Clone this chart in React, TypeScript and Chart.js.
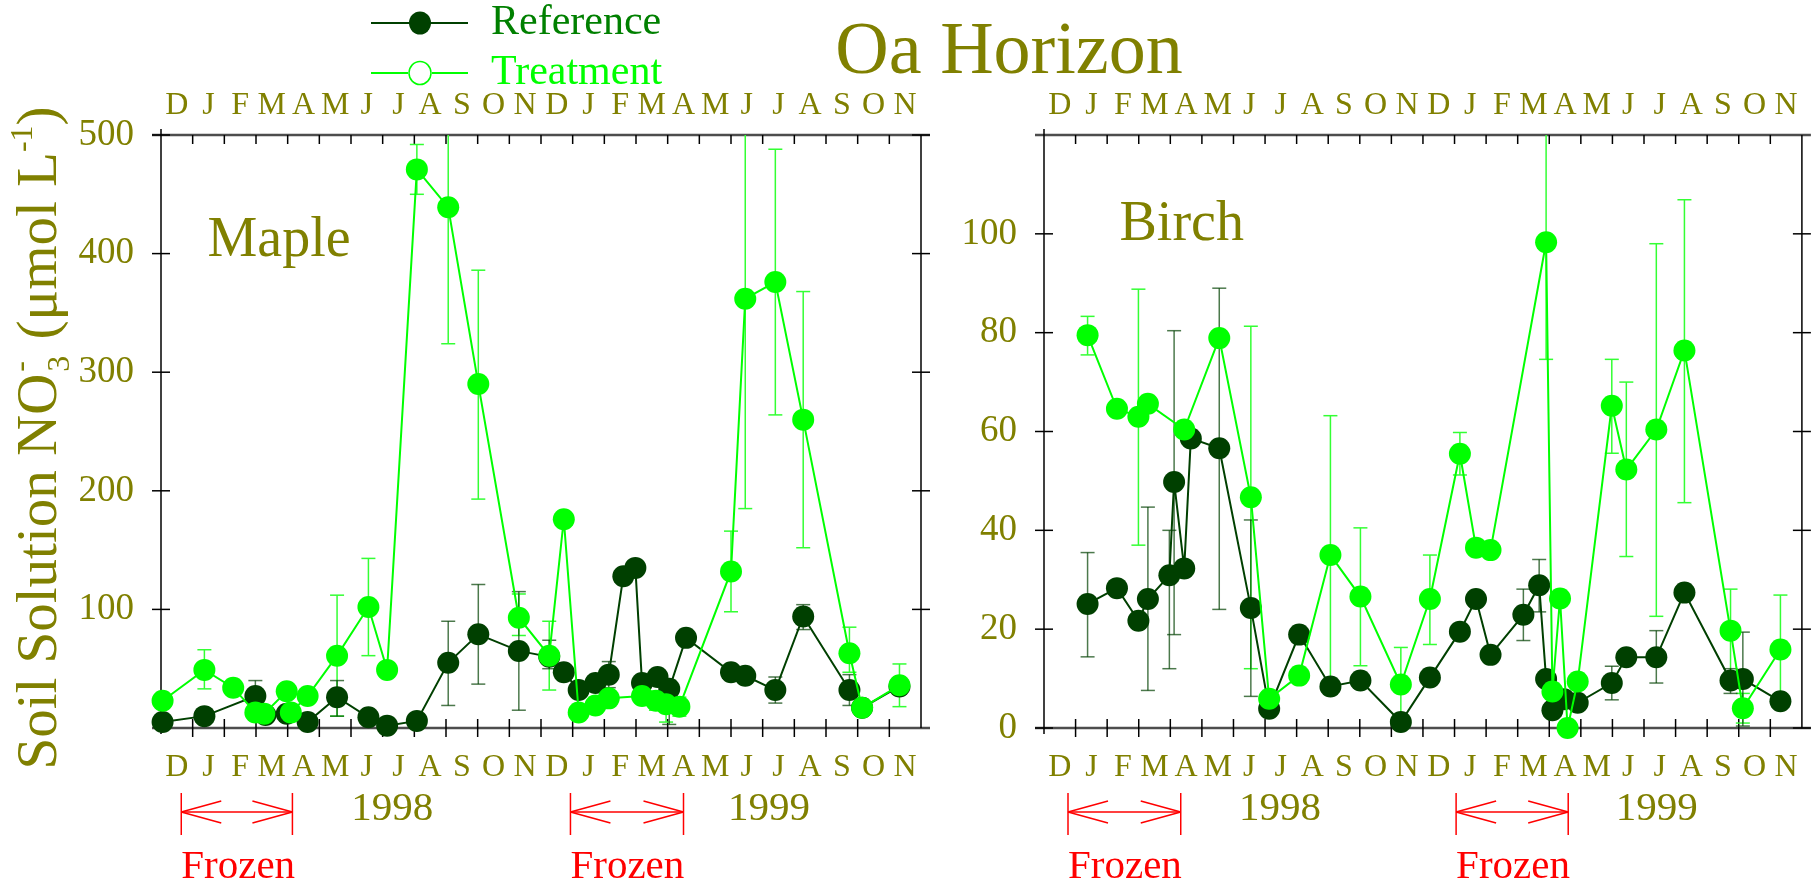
import React, { useEffect, useRef } from 'react';
import { Chart, registerables } from 'chart.js';

Chart.register(...registerables);

const FONT = '"Liberation Serif", "Times New Roman", Times, serif';
const OLIVE = '#808000';
const REF_COLOR = '#004000';
const TRT_COLOR = '#00ff00';
const REF_ERR = 'rgba(0,64,0,0.7)';
const TRT_ERR = '#33ff33';

// Month labels (Dec 1997 .. Nov 1999), one per month interval
const monthLabels = ['D', 'J', 'F', 'M', 'A', 'M', 'J', 'J', 'A', 'S', 'O', 'N', 'D', 'J', 'F', 'M', 'A', 'M', 'J', 'J', 'A', 'S', 'O', 'N'];
const yearLabels = ['1998', '1999'];
const seriesNames = ['Reference', 'Treatment'];

// ---------- Maple ----------
const mapleRefMonth = [0.05, 1.37, 2.98, 3.3, 3.97, 4.63, 5.56, 6.55, 7.14, 8.08, 9.07, 10.02, 11.3, 12.26, 12.72, 13.19, 13.72, 14.14, 14.6, 14.98, 15.19, 15.68, 16.05, 16.58, 18.0, 18.45, 19.4, 20.28, 21.74, 22.14, 23.32];
const mapleRefValue = [5, 10, 27, 11, 12, 5, 26, 9, 2, 6, 55, 79, 65, 60, 47, 32, 38, 45, 128, 135, 38, 43, 33, 76, 47, 44, 32, 94, 32, 17, 35];
const mapleRefLow = [null, null, 14, null, null, null, 10, null, null, null, 19, 37, 15, 50, null, null, null, 34, null, null, null, null, 3, null, null, null, 21, 83, 19, null, null];
const mapleRefHigh = [null, null, 40, null, null, null, 40, null, null, null, 90, 121, 115, 74, null, null, null, 56, null, null, null, null, 40, null, null, null, 43, 104, 45, null, null];

const mapleTrtMonth = [0.05, 1.37, 2.28, 2.98, 3.26, 3.97, 4.1, 4.63, 5.56, 6.55, 7.14, 8.08, 9.07, 10.02, 11.3, 12.26, 12.72, 13.19, 13.72, 14.14, 15.19, 15.63, 15.95, 16.37, 18.0, 18.45, 19.4, 20.28, 21.74, 22.14, 23.32];
const mapleTrtValue = [23, 49, 34, 13, 12, 31, 13, 27, 61, 102, 49, 471, 439, 290, 93, 61, 176, 13, 19, 25, 27, 23, 20, 18, 132, 362, 376, 260, 63, 17, 36];
const mapleTrtLow = [null, 33, null, null, null, null, null, null, 10, 61, null, 450, 324, 193, 78, 32, null, null, null, null, null, 15, 5, 10, 98, 185, 264, 152, 47, null, 18];
const mapleTrtHigh = [null, 66, null, null, null, null, null, null, 112, 143, null, 492, 560, 386, 113, 90, null, null, null, null, null, 31, 35, 26, 166, 540, 488, 368, 85, null, 54];

// ---------- Birch ----------
const birchRefMonth = [1.38, 2.31, 2.99, 3.29, 3.97, 4.12, 4.44, 4.65, 5.55, 6.55, 7.13, 8.08, 9.07, 10.02, 11.3, 12.22, 13.17, 13.68, 14.14, 15.18, 15.68, 15.9, 16.1, 16.47, 16.9, 17.98, 18.44, 19.39, 20.28, 21.74, 22.13, 23.32];
const birchRefValue = [25.1, 28.3, 21.7, 26.1, 30.9, 49.8, 32.3, 58.6, 56.6, 24.3, 3.9, 18.9, 8.4, 9.6, 1.2, 10.2, 19.5, 26.1, 14.8, 22.9, 28.9, 9.9, 3.6, 5.8, 5.1, 9.1, 14.3, 14.3, 27.4, 9.6, 9.9, 5.4];
const birchRefLow = [14.4, null, null, 7.6, 12, 18.9, null, null, 24, 6.4, null, null, null, null, null, null, null, null, null, 17.7, 23.5, null, null, null, null, 5.7, null, 9.1, null, 7, 0.4, null];
const birchRefHigh = [35.5, null, null, 44.7, 40, 80.4, null, null, 89, 42.1, null, null, null, null, null, null, null, null, null, 28.1, 34.1, null, null, null, null, 12.5, null, 19.7, null, 12, 19.4, null];

const birchTrtMonth = [1.38, 2.31, 2.99, 3.29, 4.44, 5.55, 6.55, 7.13, 8.08, 9.07, 10.02, 11.3, 12.22, 13.17, 13.68, 14.14, 15.9, 16.1, 16.34, 16.58, 16.9, 17.98, 18.44, 19.39, 20.28, 21.74, 22.13, 23.32];
const birchTrtValue = [79.5, 64.6, 63, 65.6, 60.4, 78.9, 46.7, 5.9, 10.6, 35, 26.6, 8.8, 26.1, 55.5, 36.5, 36, 98.3, 7.4, 26.2, 0, 9.4, 65.2, 52.3, 60.4, 76.4, 19.7, 4.0, 15.9];
const birchTrtLow = [75.5, null, 37, null, null, null, 12, null, null, 6.8, 12.6, 1, 16.9, 51.2, null, null, 74.6, null, null, null, null, 55.6, 34.7, 22.6, 45.6, 11.2, 1, 4.8];
const birchTrtHigh = [83.3, null, 88.8, null, null, null, 81.3, null, null, 63.2, 40.5, 16.3, 35, 59.8, null, null, 135, null, null, null, null, 74.6, 70, 98, 106.9, 28.1, 7, 26.9];

// Frozen periods (month units) and year label positions per panel
const mapleFrozen = [[0.64, 4.15], [12.93, 16.5]];
const birchFrozen = [[0.76, 4.33], [13.05, 16.6]];
const mapleYearAt = [7.3, 19.2];
const birchYearAt = [7.47, 19.4];

const monthCenters = monthLabels.map((_, i) => i + 0.5);

function line(ctx: CanvasRenderingContext2D, x1: number, y1: number, x2: number, y2: number) {
  ctx.beginPath();
  ctx.moveTo(x1, y1);
  ctx.lineTo(x2, y2);
  ctx.stroke();
}

function pts(months: number[], values: number[]) {
  return months.map((m, i) => ({ x: m, y: values[i] }));
}

const framePlugin = {
  id: 'frame',
  beforeDatasetsDraw(chart: any) {
    const { ctx, chartArea: a, scales } = chart;
    const xs = scales.x;
    const ys = scales.y;
    ctx.save();
    ctx.strokeStyle = '#4d4d4d';
    ctx.lineWidth = 2.5;
    line(ctx, a.left - 9, a.top, a.right + 9, a.top);
    line(ctx, a.left - 9, a.bottom, a.right + 9, a.bottom);
    ctx.strokeStyle = '#000';
    ctx.lineWidth = 1.5;
    line(ctx, a.left, a.top - 6, a.left, a.bottom + 6);
    line(ctx, a.right, a.top, a.right, a.bottom);
    for (let m = 1; m < 24; m++) {
      const x = xs.getPixelForValue(m);
      line(ctx, x, a.top, x, a.top + 9);
      line(ctx, x, a.bottom - 9, x, a.bottom + 9);
    }
    ys.ticks.forEach((t: any) => {
      const y = ys.getPixelForValue(t.value);
      line(ctx, a.left - 9, y, a.left + 9, y);
      line(ctx, a.right - 9, y, a.right + 9, y);
    });
    ctx.restore();
  },
};

const errorBarPlugin = {
  id: 'errorBars',
  beforeDatasetsDraw(chart: any) {
    const { ctx, chartArea: a, scales } = chart;
    ctx.save();
    ctx.beginPath();
    ctx.rect(a.left, a.top, a.right - a.left, a.bottom - a.top + 2);
    ctx.clip();
    chart.data.datasets.forEach((ds: any) => {
      if (!ds.errLow) return;
      ctx.strokeStyle = ds.errColor;
      ctx.lineWidth = 1.5;
      ds.data.forEach((p: any, i: number) => {
        const lo = ds.errLow[i];
        const hi = ds.errHigh[i];
        if (lo == null || hi == null) return;
        const x = scales.x.getPixelForValue(p.x);
        const yl = scales.y.getPixelForValue(lo);
        const yh = scales.y.getPixelForValue(hi);
        line(ctx, x, yl, x, yh);
        line(ctx, x - 7, yl, x + 7, yl);
        line(ctx, x - 7, yh, x + 7, yh);
      });
    });
    ctx.restore();
  },
};

function decorPlugin(panel: any) {
  return {
    id: 'decor',
    afterDraw(chart: any) {
      const { ctx, scales } = chart;
      const xs = scales.x;
      const ys = scales.y;
      ctx.save();
      // panel name
      ctx.fillStyle = OLIVE;
      ctx.font = `56px ${FONT}`;
      ctx.textAlign = 'left';
      ctx.textBaseline = 'alphabetic';
      ctx.fillText(panel.name, xs.getPixelForValue(panel.nameAt[0]), ys.getPixelForValue(panel.nameAt[1]));
      // years
      ctx.font = `41px ${FONT}`;
      ctx.textAlign = 'center';
      ctx.textBaseline = 'middle';
      yearLabels.forEach((yl, i) => {
        ctx.fillText(yl, xs.getPixelForValue(panel.yearAt[i]), 809);
      });
      // frozen arrows
      ctx.strokeStyle = '#ff0000';
      ctx.fillStyle = '#ff0000';
      ctx.lineWidth = 1.5;
      const ay = 812;
      panel.frozen.forEach((f: number[]) => {
        const x1 = xs.getPixelForValue(f[0]);
        const x2 = xs.getPixelForValue(f[1]);
        line(ctx, x1, 793, x1, 835);
        line(ctx, x2, 793, x2, 835);
        line(ctx, x1, ay, x2, ay);
        line(ctx, x1, ay, x1 + 40, ay - 11);
        line(ctx, x1, ay, x1 + 40, ay + 11);
        line(ctx, x2, ay, x2 - 40, ay - 11);
        line(ctx, x2, ay, x2 - 40, ay + 11);
        ctx.font = `41px ${FONT}`;
        ctx.textAlign = 'left';
        ctx.textBaseline = 'middle';
        ctx.fillText('Frozen', x1, 867);
      });
      ctx.restore();
    },
  };
}

const extrasPlugin = {
  id: 'extras',
  afterDraw(chart: any) {
    const { ctx } = chart;
    ctx.save();
    // main title
    ctx.fillStyle = OLIVE;
    ctx.font = `74px ${FONT}`;
    ctx.textAlign = 'center';
    ctx.textBaseline = 'alphabetic';
    ctx.fillText('Oa Horizon', 1009, 73);
    // legend
    ctx.lineWidth = 2;
    ctx.strokeStyle = REF_COLOR;
    line(ctx, 371, 23, 468, 23);
    ctx.fillStyle = REF_COLOR;
    ctx.beginPath();
    ctx.ellipse(420, 23, 11, 11.5, 0, 0, Math.PI * 2);
    ctx.fill();
    ctx.strokeStyle = TRT_COLOR;
    line(ctx, 371, 73, 408, 73);
    line(ctx, 432, 73, 468, 73);
    ctx.lineWidth = 1.5;
    ctx.beginPath();
    ctx.ellipse(420, 73, 11, 11.5, 0, 0, Math.PI * 2);
    ctx.stroke();
    ctx.font = `42px ${FONT}`;
    ctx.textAlign = 'left';
    ctx.textBaseline = 'middle';
    ctx.fillStyle = '#008000';
    ctx.fillText(seriesNames[0], 491, 23);
    ctx.fillStyle = TRT_COLOR;
    ctx.fillText(seriesNames[1], 491, 73);

    // y-axis title with sub/superscripts
    const big = 57;
    const small = 32;
    const parts: any[] = [
      { t: 'Soil Solution NO', size: big, dy: 0 },
      { stack: [{ t: '3', dy: 0.22 * big }, { t: '-', dy: -0.45 * big }], size: small },
      { t: ' (\u03bcmol L', size: big, dy: 0 },
      { t: '-1', size: small, dy: -0.42 * big },
      { t: ')', size: big, dy: 0 },
    ];
    let total = 0;
    parts.forEach((p) => {
      ctx.font = `${p.size}px ${FONT}`;
      if (p.stack) {
        p.w = Math.max(...p.stack.map((s: any) => ctx.measureText(s.t).width)) + 4;
      } else {
        p.w = ctx.measureText(p.t).width;
      }
      total += p.w;
    });
    ctx.translate(56, 438);
    ctx.rotate(-Math.PI / 2);
    ctx.fillStyle = OLIVE;
    ctx.textAlign = 'left';
    ctx.textBaseline = 'alphabetic';
    let x = -total / 2;
    parts.forEach((p) => {
      ctx.font = `${p.size}px ${FONT}`;
      if (p.stack) {
        p.stack.forEach((s: any) => ctx.fillText(s.t, x + 2, s.dy));
      } else {
        ctx.fillText(p.t, x, p.dy);
      }
      x += p.w;
    });
    ctx.restore();
  },
};

function makeConfig(panel: any, isLeft: boolean): any {
  const xCommon = {
    type: 'linear',
    min: 0,
    max: 24,
    grid: { display: false, drawTicks: false },
    border: { display: false },
    afterBuildTicks: (axis: any) => {
      axis.ticks = monthCenters.map((v) => ({ value: v }));
    },
  };
  const tickFont = { family: FONT, size: 32 };
  return {
    type: 'line',
    data: {
      datasets: [
        {
          label: seriesNames[1],
          data: pts(panel.trtMonth, panel.trtValue),
          borderColor: TRT_COLOR,
          backgroundColor: TRT_COLOR,
          pointBackgroundColor: TRT_COLOR,
          borderWidth: 2,
          pointRadius: 11,
          pointBorderWidth: 0,
          tension: 0,
          clip: false,
          order: 0,
          errLow: panel.trtLow,
          errHigh: panel.trtHigh,
          errColor: TRT_ERR,
        },
        {
          label: seriesNames[0],
          data: pts(panel.refMonth, panel.refValue),
          borderColor: REF_COLOR,
          backgroundColor: REF_COLOR,
          pointBackgroundColor: REF_COLOR,
          borderWidth: 2,
          pointRadius: 11,
          pointBorderWidth: 0,
          tension: 0,
          clip: false,
          order: 1,
          errLow: panel.refLow,
          errHigh: panel.refHigh,
          errColor: REF_ERR,
        },
      ],
    },
    options: {
      responsive: false,
      maintainAspectRatio: false,
      animation: false,
      events: [],
      layout: { padding: { left: 0, top: 0, bottom: 0, right: panel.padRight } },
      plugins: { legend: { display: false }, tooltip: { enabled: false }, title: { display: false } },
      scales: {
        x: {
          ...xCommon,
          position: 'bottom',
          ticks: {
            autoSkip: false,
            maxRotation: 0,
            minRotation: 0,
            padding: 20,
            color: OLIVE,
            font: tickFont,
            callback: (v: number) => monthLabels[Math.floor(v)],
          },
          afterFit: (axis: any) => {
            axis.height = 159;
          },
        },
        x2: {
          ...xCommon,
          position: 'top',
          ticks: {
            autoSkip: false,
            maxRotation: 0,
            minRotation: 0,
            padding: 10,
            color: OLIVE,
            font: tickFont,
            callback: (v: number) => monthLabels[Math.floor(v)],
          },
          afterFit: (axis: any) => {
            axis.height = 135;
          },
        },
        y: {
          type: 'linear',
          position: 'left',
          min: 0,
          max: panel.yMax,
          grid: { display: false, drawTicks: false },
          border: { display: false },
          ticks: {
            stepSize: panel.yStep,
            padding: 27,
            color: OLIVE,
            font: { family: FONT, size: 37 },
            callback: (v: number) => (panel.hiddenTicks.includes(v) ? null : String(v)),
          },
          afterFit: (axis: any) => {
            axis.width = panel.axisWidth;
          },
        },
      },
    },
    plugins: isLeft
      ? [framePlugin, errorBarPlugin, decorPlugin(panel), extrasPlugin]
      : [framePlugin, errorBarPlugin, decorPlugin(panel)],
  };
}

const maplePanel = {
  name: 'Maple',
  nameAt: [1.47, 398],
  yMax: 500,
  yStep: 100,
  hiddenTicks: [0],
  axisWidth: 161,
  padRight: 1818 - 921,
  refMonth: mapleRefMonth,
  refValue: mapleRefValue,
  refLow: mapleRefLow,
  refHigh: mapleRefHigh,
  trtMonth: mapleTrtMonth,
  trtValue: mapleTrtValue,
  trtLow: mapleTrtLow,
  trtHigh: mapleTrtHigh,
  frozen: mapleFrozen,
  yearAt: mapleYearAt,
};

const birchPanel = {
  name: 'Birch',
  nameAt: [2.39, 98.7],
  yMax: 120,
  yStep: 20,
  hiddenTicks: [120],
  axisWidth: 1044,
  padRight: 1818 - 1804,
  refMonth: birchRefMonth,
  refValue: birchRefValue,
  refLow: birchRefLow,
  refHigh: birchRefHigh,
  trtMonth: birchTrtMonth,
  trtValue: birchTrtValue,
  trtLow: birchTrtLow,
  trtHigh: birchTrtHigh,
  frozen: birchFrozen,
  yearAt: birchYearAt,
};

export default function App() {
  const leftRef = useRef<HTMLCanvasElement>(null);
  const rightRef = useRef<HTMLCanvasElement>(null);

  useEffect(() => {
    const c1 = new Chart(leftRef.current as HTMLCanvasElement, makeConfig(maplePanel, true));
    const c2 = new Chart(rightRef.current as HTMLCanvasElement, makeConfig(birchPanel, false));
    return () => {
      c1.destroy();
      c2.destroy();
    };
  }, []);

  return (
    <div style={{ position: 'fixed', left: 0, top: 0, width: 1818, height: 887, background: '#ffffff' }}>
      <canvas ref={leftRef} width={1818} height={887} style={{ position: 'absolute', left: 0, top: 0 }} />
      <canvas ref={rightRef} width={1818} height={887} style={{ position: 'absolute', left: 0, top: 0 }} />
    </div>
  );
}
